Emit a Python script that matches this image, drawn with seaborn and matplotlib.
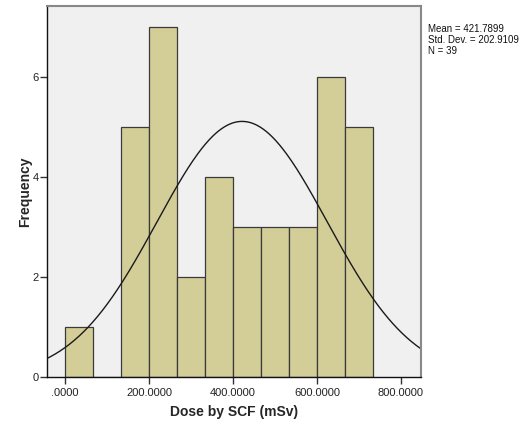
import numpy as np
import pandas as pd
import seaborn as sns
from matplotlib import pyplot as plt

# histogram bins (mSv)
bin_edges = [0.0, 66.67, 133.33, 200.0, 266.67, 333.33, 400.0,
             466.67, 533.33, 600.0, 666.67, 733.33]
bin_counts = [1, 0, 5, 7, 2, 4, 3, 3, 3, 6, 5]

x_ticks = [0, 200, 400, 600, 800]
x_tick_labels = ['.0000', '200.0000', '400.0000', '600.0000', '800.0000']
y_ticks = [0, 2, 4, 6]

mean = 421.7899
sd = 202.9109
n = 39

sns.set_style('white')
plt.rcParams['font.family'] = ['Liberation Sans', 'DejaVu Sans']

centers = [(a + b) / 2 for a, b in zip(bin_edges[:-1], bin_edges[1:])]
df = pd.DataFrame({'dose': centers, 'count': bin_counts})

fig = plt.figure(figsize=(5.27, 4.22), dpi=100)
ax = fig.add_axes([0.0892, 0.1066, 0.7097, 0.8792])
ax.set_facecolor('#F0F0F0')

sns.histplot(data=df, x='dose', weights='count', bins=bin_edges, ax=ax,
             color='#D3CE97', alpha=1, edgecolor='#3a3a3a', linewidth=0.9)

# fitted normal curve
xs = np.linspace(-45, 850, 400)
width = bin_edges[1] - bin_edges[0]
ys = n * width * np.exp(-0.5 * ((xs - mean) / sd) ** 2) / (sd * np.sqrt(2 * np.pi))
sns.lineplot(x=xs, y=ys, ax=ax, color='#1a1a1a', linewidth=1)

ax.set_xlim(-43, 848)
ax.set_ylim(0, 7.42)
ax.set_xticks(x_ticks)
ax.set_xticklabels(x_tick_labels, fontsize=8)
ax.set_yticks(y_ticks)
ax.set_yticklabels([str(t) for t in y_ticks], fontsize=8)
ax.tick_params(axis='both', length=5, width=1, color='#333333', direction='out',
               pad=1, labelcolor='#222222')
ax.tick_params(axis='x', bottom=True, pad=3)
ax.tick_params(axis='y', left=True)

for side in ['left', 'bottom']:
    ax.spines[side].set_color('#111111')
    ax.spines[side].set_linewidth(1)
for side in ['top', 'right']:
    ax.spines[side].set_color('#888888')
    ax.spines[side].set_linewidth(1.5)

ax.set_xlabel('Dose by SCF (mSv)', fontsize=10, fontweight='bold', labelpad=5)
ax.set_ylabel('Frequency', fontsize=10, fontweight='bold', labelpad=0)

fig.text(0.812, 0.942, 'Mean = 421.7899\nStd. Dev. = 202.9109\nN = 39',
         fontsize=7, va='top', ha='left', linespacing=1.1, color='#111111')

fig.savefig('out.png', dpi=100, facecolor='white')
